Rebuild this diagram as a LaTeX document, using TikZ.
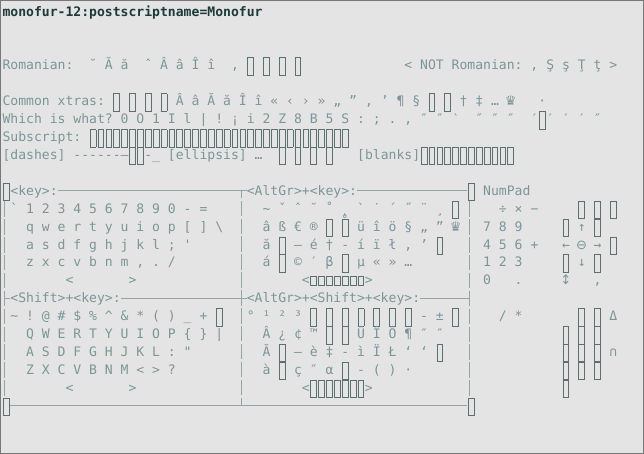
\documentclass[tikz,border=0pt]{standalone}
\usepackage{fontspec}
\newfontfamily\monof{DejaVu Sans Mono}
\newfontfamily\symf{DejaVu Sans}
\definecolor{bgc}{RGB}{228,228,228}
\definecolor{bordc}{RGB}{120,120,120}
\definecolor{txc}{RGB}{124,150,150}
\definecolor{titc}{RGB}{28,58,58}
\definecolor{boxc}{RGB}{92,112,112}
\definecolor{framec}{RGB}{146,164,164}
\newlength\cw
\setlength\cw{7.88pt}
% grid helpers: column x, baseline y, row centre y, frame x
\newcommand\cx[1]{2.5+#1*7.88}
\newcommand\by[1]{16.3+#1*17.9}
\newcommand\cy[1]{11.5+#1*17.9}
\newcommand\vx[1]{4.8+#1*7.88}
% missing-glyph boxes
\newcommand\tofubox{\textcolor{boxc}{\raisebox{-5pt}{\setlength\fboxsep{0pt}\setlength\fboxrule{0.9pt}\fbox{\rule{0pt}{16.6pt}\rule{4.9pt}{0pt}}}}}
\newcommand\tofu{\makebox[\cw][c]{\tofubox}}
\newcommand\stofu{\makebox[\cw][c]{\textcolor{boxc}{\setlength\fboxsep{0pt}\setlength\fboxrule{0.9pt}\fbox{\rule{0pt}{7.6pt}\rule{4.9pt}{0pt}}}}}
\newcommand\ringtofu{\makebox[\cw][c]{\tofubox\llap{\raisebox{5pt}{˚}}}}
\newcommand\tofus[1]{\foreach\k in {1,...,#1}{\tofu}}
\newcommand\stofus[1]{\foreach\k in {1,...,#1}{\stofu}}
\newcommand\cell[1]{\makebox[\cw][c]{\symf #1}}
\newcommand\gap[1]{\hspace*{#1\cw}}
\begin{document}
\begin{tikzpicture}[x=1pt, y=-1pt,
    txt/.style={anchor=base west, inner sep=0pt, outer sep=0pt, text=txc,
      font=\monof\fontsize{13.09}{17.9}\selectfont\frenchspacing},
    frame/.style={draw=framec, line width=0.8pt},
    vseg/.style={dash pattern=on 15.5pt off 2.4pt}]
  \useasboundingbox[fill=bgc] (0,0) rectangle (644,454);
  \draw[bordc, line width=1pt] (0.5,0.5) rectangle (643.5,453.5);

  \node[txt, text=titc, font=\monof\bfseries\fontsize{13.09}{17.9}\selectfont]
    (title) at ({\cx{0}},{\by{0}}) {monofur-12:postscriptname=Monofur};

  \node[txt] (romanian) at ({\cx{0}},{\by{3}})
    {Romanian:~ ˘ Ă ă~ ˆ Â â Î î~ , \tofu{} \tofu{} \tofu{} \tofu\gap{13}< NOT Romanian: , Ş ş Ţ ţ >};
  \node[txt] (xtras) at ({\cx{0}},{\by{5}})
    {Common xtras: \tofu{} \tofu{} \tofu{} \tofu{} Â â Ă ă Î î « ‹ › » „ ” ‚ ’ ¶ § \tofu{} \tofu{} † ‡ … \cell{♛}~~ ·};
  \node[txt] (which) at ({\cx{0}},{\by{6}})
    {Which is what? 0 O 1 I l | ! ¡ i 2 Z 8 B 5 S : ; . , ″ ″ \cell{‵}~~″ ″ ″~~′\tofu{}′ ′ ′ ″};
  \node[txt] (subscr) at ({\cx{0}},{\by{7}}) {Subscript: \tofus{33}};
  \node[txt] (dashes) at ({\cx{0}},{\by{8}})
    {[dashes] ------—\tofu\tofu{}-\_ [ellipsis] …~ \tofu{} \tofu{} \tofu{} \tofu\gap{3}[blanks]\tofus{12}};

  % keyboard block
  \node[txt] (c00) at ({\cx{0}},{\by{10}}) {\tofu};
  \node[txt] (keyl) at ({\cx{1}},{\by{10}}) {<key>:};
  \node[txt] (altl) at ({\cx{31}},{\by{10}}) {<AltGr>+<key>:};
  \node[txt] (c59) at ({\cx{59}},{\by{10}}) {\tofu};
  \node[txt] (numpad) at ({\cx{61}},{\by{10}}) {NumPad};

  \node[txt] (k11) at ({\cx{0}},{\by{11}})
    {~\textasciigrave{} 1 2 3 4 5 6 7 8 9 0 - =\gap{7}\textasciitilde{} ˇ ˆ ˘ ˚ ˛ \textasciigrave{} ˙ ´ ˝ ¨ ¸ \tofu\gap{5}÷ × −\gap{5}\tofu{} \tofu{} \tofu};
  \node[txt] (k12) at ({\cx{0}},{\by{12}})
    {\gap{3}q w e r t y u i o p [ ] \textbackslash\gap{5}â ß € ® \tofu{} \ringtofu{} ü î ö § „ ” \cell{♛}\gap{3}7 8 9\gap{5}\tofu{} ↑ \tofu};
  \node[txt] (k13) at ({\cx{0}},{\by{13}})
    {\gap{3}a s d f g h j k l ; '\gap{9}ă \tofu{} – é † - í ï ł , ’ \tofu\gap{5}4 5 6 +\gap{3}← \cell{⊖} → \tofu};
  \node[txt] (k14) at ({\cx{0}},{\by{14}})
    {\gap{3}z x c v b n m , . /\gap{11}á \tofu{} © ′ β \tofu{} µ « » …\gap{9}1 2 3\gap{5}\tofu{} ↓ \tofu};
  \node[txt] (k15) at ({\cx{0}},{\by{15}})
    {\gap{8}<\gap{7}>\gap{21}<\stofus{7}>\gap{14}0\gap{3}.\gap{5}\cell{↕}\gap{3},};

  \node[txt] (shl) at ({\cx{1}},{\by{16}}) {<Shift>+<key>:};
  \node[txt] (agsl) at ({\cx{31}},{\by{16}}) {<AltGr>+<Shift>+<key>:};

  \node[txt] (k17) at ({\cx{0}},{\by{17}})
    {~\textasciitilde{} ! @ \# \$ \% \textasciicircum{} \& * ( ) \_ + \tofu\gap{3}° ¹ ² ³ \tofu{} \tofu{} \tofu{} \tofu{} \tofu{} \tofu{} \tofu{} - ± \tofu\gap{5}/ *\gap{7}\tofu{} \tofu{} Δ};
  \node[txt] (k18) at ({\cx{0}},{\by{18}})
    {\gap{3}Q W E R T Y U I O P \{ \} |\gap{5}Â ¿ ¢ ™ \tofu{} \tofu{} Ü Î Ö ¶ ″ ″\gap{15}\tofu{} \tofu{} \tofu};
  \node[txt] (k19) at ({\cx{0}},{\by{19}})
    {\gap{3}A S D F G H J K L : "\gap{9}Ă \tofu{} – è ‡ - ì Ï Ł ‘ ‘ \tofu\gap{15}\tofu{} \tofu{} \tofu{} ∩};
  \node[txt] (k20) at ({\cx{0}},{\by{20}})
    {\gap{3}Z X C V B N M < > ?\gap{11}à \tofu{} ç ″ α \tofu{} - ( ) ·\gap{19}\tofu{} \tofu{} \tofu};
  \node[txt] (k21) at ({\cx{0}},{\by{21}})
    {\gap{8}<\gap{7}>\gap{21}<\tofus{7}>\gap{24}\tofu};

  \node[txt] (bl0) at ({\cx{0}},{\by{22}}) {\tofu};
  \node[txt] (br59) at ({\cx{59}},{\by{22}}) {\tofu};

  % frame corners and joints
  \coordinate (tl) at ({\vx{0}},{\cy{10}});
  \coordinate (ml) at ({\vx{0}},{\cy{16}});
  \coordinate (bl) at ({\vx{0}},{\cy{22}});
  \coordinate (tm) at ({\vx{30}},{\cy{10}});
  \coordinate (mm) at ({\vx{30}},{\cy{16}});
  \coordinate (bm) at ({\vx{30}},{\cy{22}});
  \coordinate (tr) at ({\vx{59}},{\cy{10}});
  \coordinate (mr) at ({\vx{59}},{\cy{16}});
  \coordinate (br) at ({\vx{59}},{\cy{22}});

  \draw[frame] (keyl.east |- tm) -- (tm) -- (altl.west |- tm);
  \draw[frame] (altl.east |- tr) -- (c59.west |- tr);
  \draw[frame] (ml) -- (shl.west |- ml);
  \draw[frame] (shl.east |- mm) -- (mm) -- (agsl.west |- mm);
  \draw[frame] (agsl.east |- mr) -- (mr);
  \draw[frame] (bl0.east |- bm) -- (bm) -- (br59.west |- bm);
  \draw[frame, vseg] (tl |- c00.south) -- (bl |- bl0.north);
  \draw[frame, vseg, dash phase=7.75pt] (tm) -- (bm);
  \draw[frame, vseg] (tr |- c59.south) -- (br |- br59.north);
\end{tikzpicture}
\end{document}
